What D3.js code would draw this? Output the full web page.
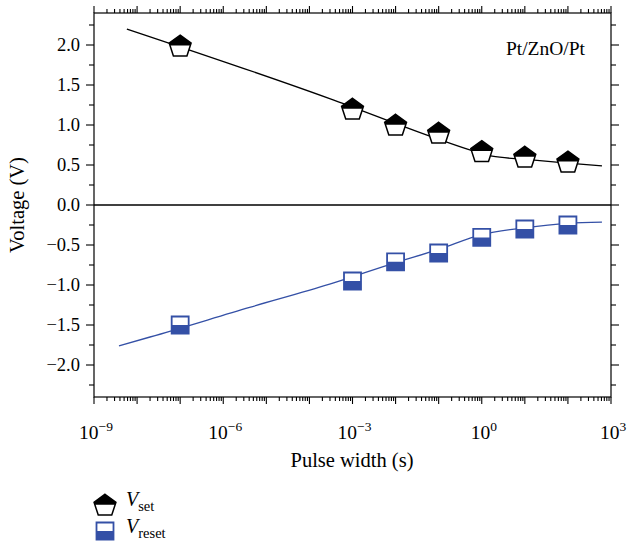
<!DOCTYPE html>
<html><head><meta charset="utf-8">
<script src="https://cdn.jsdelivr.net/npm/d3@7"></script>
<style>
body{margin:0;background:#fff;}
svg{display:block;font-family:"Liberation Serif","DejaVu Serif",serif;}
</style></head>
<body><div id="chart"></div>
<script>
// ---- data ----
const pulseWidths = [1e-7, 1e-3, 1e-2, 1e-1, 1, 10, 100];
const vSet = [1.99, 1.20, 1.00, 0.90, 0.67, 0.60, 0.54];
const vReset = [-1.50, -0.95, -0.71, -0.60, -0.405, -0.30, -0.25];
// fitted guide curves
const setFitX = [5.8e-9, 2.95e-4, 1.02e-1, 0.60, 1.74, 10.7, 72, 617];
const setFitY = [2.20, 1.33, 0.82, 0.68, 0.61, 0.57, 0.53, 0.49];
const resetFitX = [3.8e-9, 2.0e-8, 4.1e-6, 2.95e-4, 1e-2, 1e-1, 1, 10, 100, 617];
const resetFitY = [-1.76, -1.65, -1.28, -0.99, -0.72, -0.555, -0.37, -0.285, -0.23, -0.215];
const xTickExps = [-9, -6, -3, 0, 3];
const yTicks = [-2.0, -1.5, -1.0, -0.5, 0.0, 0.5, 1.0, 1.5, 2.0];
const labelText = "Pt/ZnO/Pt";
const xTitle = "Pulse width (s)";
const yTitle = "Voltage (V)";

const W = 627, H = 548;
const blue = "#3450a6";
const svg = d3.select("#chart").append("svg").attr("width", W).attr("height", H);

const x = d3.scaleLog().domain([1e-9, 1e3]).range([94, 611]);
const y = d3.scaleLinear().domain([-2.4, 2.4]).range([397, 13]);

const defs = svg.append("defs");
defs.append("clipPath").attr("id","topHalf").attr("clipPathUnits","objectBoundingBox")
  .append("rect").attr("x",-0.2).attr("y",-0.2).attr("width",1.4).attr("height",0.7);
defs.append("clipPath").attr("id","botHalf").attr("clipPathUnits","objectBoundingBox")
  .append("rect").attr("x",-0.2).attr("y",0.5).attr("width",1.4).attr("height",0.7);

// minor/major ticks
const minorX = [];
for (let e = -9; e < 3; e++) for (let m = 2; m <= 9; m++) minorX.push(m * Math.pow(10, e));
const majorX = d3.range(-9, 4).map(e => Math.pow(10, e));
const minorY = d3.range(-2.25, 2.4, 0.5).map(v => +v.toFixed(2));

const axG = svg.append("g").attr("stroke","#000").attr("stroke-width",1.1);
const [x0, x1] = x.range(), [yb, yt] = y.range();
// frame
svg.append("rect").attr("x",x0).attr("y",yt).attr("width",x1-x0).attr("height",yb-yt)
  .attr("fill","none").attr("stroke","#000").attr("stroke-width",1.2);

// bottom & top ticks
majorX.forEach(v => {
  axG.append("line").attr("x1",x(v)).attr("x2",x(v)).attr("y1",yb).attr("y2",yb+7);
  axG.append("line").attr("x1",x(v)).attr("x2",x(v)).attr("y1",yt).attr("y2",yt-7);
});
minorX.forEach(v => {
  axG.append("line").attr("x1",x(v)).attr("x2",x(v)).attr("y1",yb).attr("y2",yb+4);
  axG.append("line").attr("x1",x(v)).attr("x2",x(v)).attr("y1",yt).attr("y2",yt-4);
});
// left & right ticks
yTicks.forEach(v => {
  axG.append("line").attr("x1",x0-8).attr("x2",x0).attr("y1",y(v)).attr("y2",y(v));
  axG.append("line").attr("x1",x1).attr("x2",x1+8).attr("y1",y(v)).attr("y2",y(v));
});
minorY.forEach(v => {
  axG.append("line").attr("x1",x0-5).attr("x2",x0).attr("y1",y(v)).attr("y2",y(v));
  axG.append("line").attr("x1",x1).attr("x2",x1+5).attr("y1",y(v)).attr("y2",y(v));
});
// zero line
svg.append("line").attr("x1",x0).attr("x2",x1).attr("y1",y(0)).attr("y2",y(0))
  .attr("stroke","#000").attr("stroke-width",1.3);

// y tick labels
svg.append("g").selectAll("text").data(yTicks).join("text")
  .attr("x", 80).attr("y", d => y(d)).attr("dy","0.35em").attr("text-anchor","end")
  .attr("font-size",18.5).attr("fill","#000")
  .text(d => (d < 0 ? "\u2212" : "") + Math.abs(d).toFixed(1));

// x tick labels
const xl = svg.append("g").selectAll("text").data(xTickExps).join("text")
  .attr("x", d => x(Math.pow(10, d)) + 2).attr("y", 439).attr("text-anchor","middle")
  .attr("font-size",19.5).attr("fill","#000");
xl.append("tspan").text("10");
xl.append("tspan").attr("dy",-8).attr("font-size",13.5)
  .text(d => d < 0 ? "\u2212" + Math.abs(d) : String(d));

// titles
svg.append("text").attr("x", 352).attr("y", 467).attr("text-anchor","middle")
  .attr("font-size",20.5).text(xTitle);
svg.append("text").attr("transform","translate(24,"+ y(0) +") rotate(-90)")
  .attr("text-anchor","middle").attr("font-size",20.5).text(yTitle);
svg.append("text").attr("x",585).attr("y",55).attr("text-anchor","end")
  .attr("font-size",19.5).text(labelText);

// fit curves
const line = d3.line().x(d => x(d[0])).y(d => y(d[1])).curve(d3.curveMonotoneX);
svg.append("path").attr("d", line(d3.zip(setFitX, setFitY)))
  .attr("fill","none").attr("stroke","#000").attr("stroke-width",1.3);
svg.append("path").attr("d", line(d3.zip(resetFitX, resetFitY)))
  .attr("fill","none").attr("stroke",blue).attr("stroke-width",1.3);

// markers
const R = 11.5;
const pent = d3.range(5).map(i => {
  const a = -Math.PI/2 + i * 2*Math.PI/5;
  return [R*Math.cos(a), R*Math.sin(a)];
});
const pentPath = "M" + pent.map(p => p.join(",")).join("L") + "Z";
const S = 17;
const sqPath = `M${-S/2},${-S/2}H${S/2}V${S/2}H${-S/2}Z`;

function drawPent(g, cx, cy) {
  const gg = g.append("g").attr("transform", `translate(${cx},${cy + 0.8})`);
  gg.append("path").attr("d", pentPath).attr("fill","#fff");
  gg.append("path").attr("d", pentPath).attr("fill","#000").attr("clip-path","url(#topHalf)");
  gg.append("path").attr("d", pentPath).attr("fill","none").attr("stroke","#000").attr("stroke-width",1.5);
}
function drawSq(g, cx, cy) {
  const gg = g.append("g").attr("transform", `translate(${cx},${cy})`);
  gg.append("path").attr("d", sqPath).attr("fill","#fff");
  gg.append("path").attr("d", sqPath).attr("fill",blue).attr("clip-path","url(#botHalf)");
  gg.append("path").attr("d", sqPath).attr("fill","none").attr("stroke",blue).attr("stroke-width",1.8);
}
const mg = svg.append("g");
pulseWidths.forEach((pw, i) => drawPent(mg, x(pw), y(vSet[i])));
pulseWidths.forEach((pw, i) => drawSq(mg, x(pw), y(vReset[i])));

// legend
const lg = svg.append("g");
drawPent(lg, 105, 505);
drawSq(lg, 105, 531);
const t1 = lg.append("text").attr("x",126).attr("y",506).attr("font-size",20);
t1.append("tspan").attr("font-style","italic").text("V");
t1.append("tspan").attr("font-size",14.5).attr("dy",5).text("set");
const t2 = lg.append("text").attr("x",126).attr("y",533).attr("font-size",20);
t2.append("tspan").attr("font-style","italic").text("V");
t2.append("tspan").attr("font-size",14.5).attr("dy",5).text("reset");
</script></body></html>
